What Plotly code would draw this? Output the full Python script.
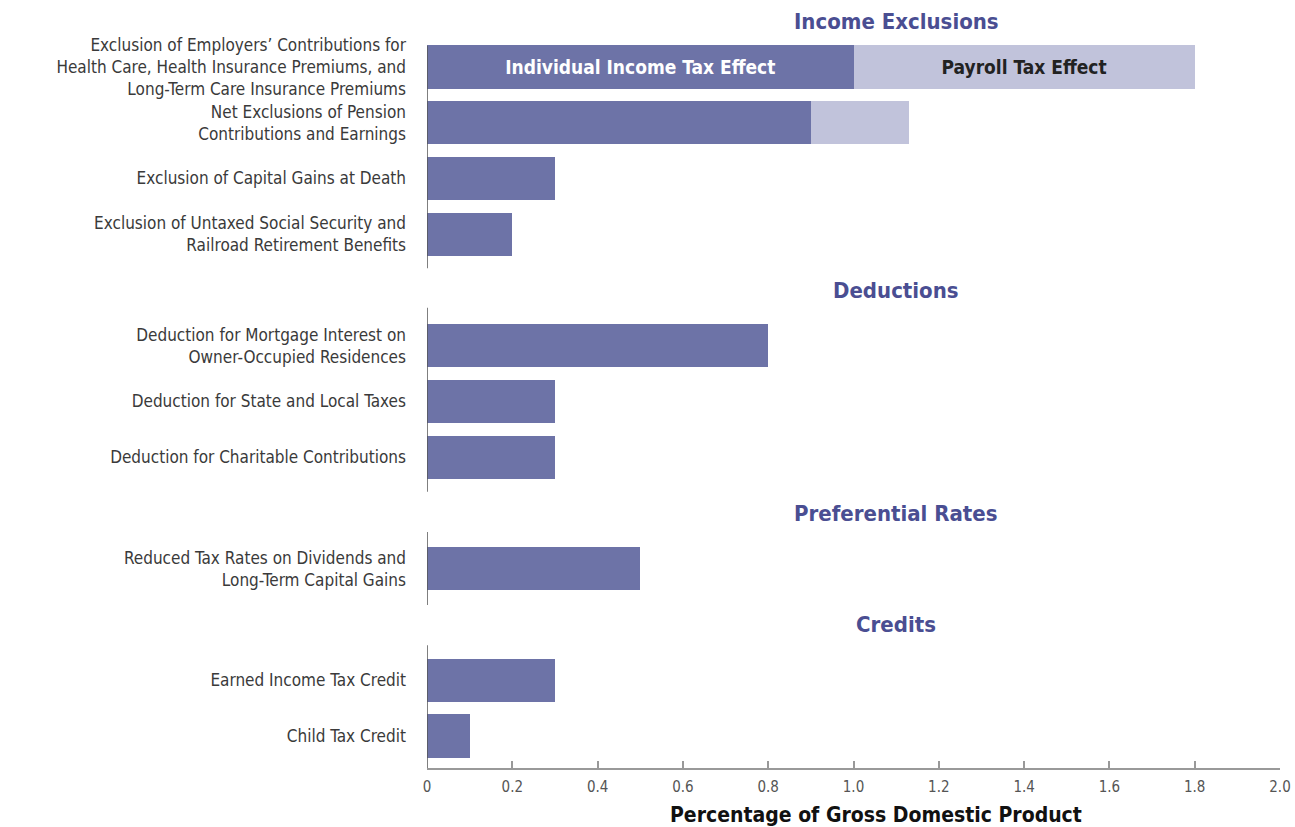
import plotly.graph_objects as go

# Tax expenditures, percentage of GDP
categories = [
    "Exclusion of Employers’ Contributions for<br>Health Care, Health Insurance Premiums, and<br>Long-Term Care Insurance Premiums",
    "Net Exclusions of Pension<br>Contributions and Earnings",
    "Exclusion of Capital Gains at Death",
    "Exclusion of Untaxed Social Security and<br>Railroad Retirement Benefits",
    "Deduction for Mortgage Interest on<br>Owner-Occupied Residences",
    "Deduction for State and Local Taxes",
    "Deduction for Charitable Contributions",
    "Reduced Tax Rates on Dividends and<br>Long-Term Capital Gains",
    "Earned Income Tax Credit",
    "Child Tax Credit",
]
individual_income_tax = [1.0, 0.9, 0.3, 0.2, 0.8, 0.3, 0.3, 0.5, 0.3, 0.1]
payroll_tax = [0.8, 0.23, 0, 0, 0, 0, 0, 0, 0, 0]

groups = ["Income Exclusions", "Deductions", "Preferential Rates", "Credits"]
group_sizes = [4, 3, 1, 2]

x_ticks = [0, 0.2, 0.4, 0.6, 0.8, 1.0, 1.2, 1.4, 1.6, 1.8, 2.0]
x_tick_labels = ["0", "0.2", "0.4", "0.6", "0.8", "1.0", "1.2", "1.4", "1.6", "1.8", "2.0"]

DARK = "#6d73a7"
LIGHT = "#c1c3db"
HEAD = "#4a4e92"
FONT = "Liberation Sans Narrow, DejaVu Sans Condensed, Liberation Sans, Arial, sans-serif"

# Row positions: one blank row separates consecutive groups
rows, header_rows, spans = [], [], []
r = 0
for gi, n in enumerate(group_sizes):
    if gi > 0:
        header_rows.append(r)
        r += 1
    spans.append((r, r + n - 1))
    rows.extend(range(r, r + n))
    r += n
header_rows.insert(0, -0.81)

fig = go.Figure()
fig.add_trace(go.Bar(
    y=rows, x=individual_income_tax, orientation="h", width=0.78,
    marker=dict(color=DARK, line=dict(width=0)),
    text=["<b>Individual Income Tax Effect</b>"] + [""] * (len(rows) - 1),
    textposition="inside", insidetextanchor="middle",
    textfont=dict(family=FONT, size=19, color="white"),
    hoverinfo="x+y", showlegend=False,
))
fig.add_trace(go.Bar(
    y=rows, x=payroll_tax, orientation="h", width=0.78,
    marker=dict(color=LIGHT, line=dict(width=0)),
    text=["<b>Payroll Tax Effect</b>"] + [""] * (len(rows) - 1),
    textposition="inside", insidetextanchor="middle",
    textfont=dict(family=FONT, size=19, color="#222222"),
    hoverinfo="x+y", showlegend=False,
))

# Group headings
for name, hr in zip(groups, header_rows):
    fig.add_annotation(x=1.1, y=hr, xref="x", yref="y", text=f"<b>{name}</b>",
                       showarrow=False, font=dict(family=FONT, size=22, color=HEAD))

# Vertical axis segments, one per group
seg_top = [0.38, 0.68, 0.66, 0.63]
seg_bot = [0.61, 0.62, 0.65, 0.58]
for (a, b), t, bo in zip(spans, seg_top, seg_bot):
    fig.add_shape(type="line", xref="x", yref="y", x0=0, x1=0, y0=a - t, y1=b + bo,
                  line=dict(color="#555555", width=1.5))

fig.add_annotation(x=1.053, y=0, xref="x", yref="paper", yanchor="top", yshift=-33,
                   text="<b>Percentage of Gross Domestic Product</b>", showarrow=False,
                   font=dict(family=FONT, size=21, color="#111111"))

fig.update_layout(
    barmode="stack",
    width=1295, height=827,
    margin=dict(l=427, r=15, t=0, b=59),
    paper_bgcolor="white", plot_bgcolor="white",
    font=dict(family=FONT, color="#3a3a3a"),
    xaxis=dict(range=[0, 2.0], tickvals=x_ticks, ticktext=x_tick_labels,
               ticks="inside", ticklen=7, tickcolor="#999999", tickwidth=1.5,
               showline=True, linecolor="#999999", linewidth=2,
               showgrid=False, zeroline=False, ticklabelstandoff=4,
               tickfont=dict(family=FONT, size=15, color="#555555")),
    yaxis=dict(range=[12.574, -1.2018], tickvals=rows, ticktext=categories,
               showline=False, showgrid=False, zeroline=False, ticks="",
               ticklabelstandoff=20,
               tickfont=dict(family=FONT, size=17, color="#3a3a3a")),
)

fig.write_html("out.html")
